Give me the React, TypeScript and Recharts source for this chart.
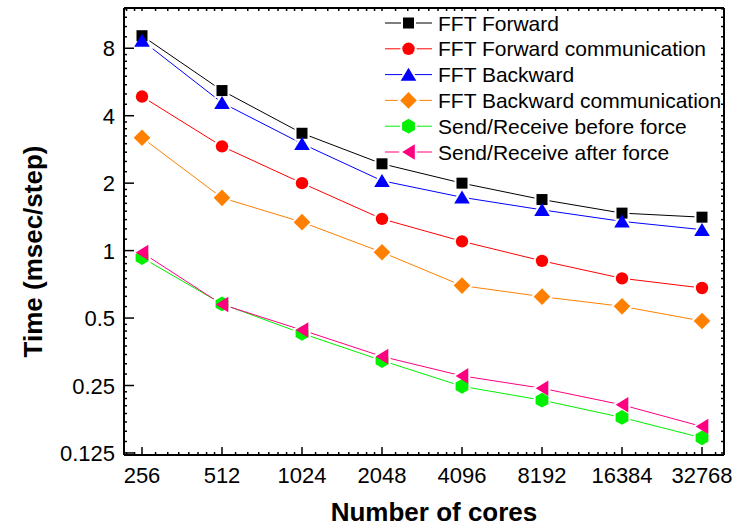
import React from 'react';
import { LineChart, Line, XAxis, YAxis, Legend } from 'recharts';

// Number of cores (x categories) and per-phase timings in msec/step
const CORES = [256, 512, 1024, 2048, 4096, 8192, 16384, 32768];
const FFT_FORWARD = [9.1, 5.18, 3.34, 2.44, 2.0, 1.69, 1.47, 1.41];
const FFT_FORWARD_COMM = [4.87, 2.92, 2.0, 1.385, 1.1, 0.9, 0.752, 0.681];
const FFT_BACKWARD = [8.67, 4.57, 3.0, 2.05, 1.73, 1.52, 1.35, 1.24];
const FFT_BACKWARD_COMM = [3.19, 1.72, 1.34, 0.983, 0.698, 0.623, 0.564, 0.485];
const SR_BEFORE = [0.93, 0.578, 0.427, 0.323, 0.248, 0.215, 0.18, 0.146];
const SR_AFTER = [0.98, 0.575, 0.442, 0.337, 0.276, 0.243, 0.205, 0.164];
const Y_TICKS = [0.125, 0.25, 0.5, 1, 2, 4, 8];

const X_DOMAIN: [number, number] = [Math.pow(2, 7.775), Math.pow(2, 15.275)];
const Y_DOMAIN: [number, number] = [0.1224, 12.1];

const FONT = '"Liberation Sans", Arial, Helvetica, sans-serif';

type Kind = 'square' | 'circle' | 'triangleUp' | 'diamond' | 'hexagon' | 'triangleLeft';

const SERIES: { key: string; name: string; color: string; kind: Kind; values: number[] }[] = [
  { key: 'fwd', name: 'FFT Forward', color: '#000000', kind: 'square', values: FFT_FORWARD },
  { key: 'fwdComm', name: 'FFT Forward communication', color: '#FF0000', kind: 'circle', values: FFT_FORWARD_COMM },
  { key: 'bwd', name: 'FFT Backward', color: '#0000FF', kind: 'triangleUp', values: FFT_BACKWARD },
  { key: 'bwdComm', name: 'FFT Backward communication', color: '#FF8000', kind: 'diamond', values: FFT_BACKWARD_COMM },
  { key: 'srBefore', name: 'Send/Receive before force', color: '#00F000', kind: 'hexagon', values: SR_BEFORE },
  { key: 'srAfter', name: 'Send/Receive after force', color: '#FF0080', kind: 'triangleLeft', values: SR_AFTER },
];

const DATA = CORES.map((c, i) => {
  const row: Record<string, number> = { cores: c };
  SERIES.forEach((s) => {
    row[s.key] = s.values[i];
  });
  return row;
});

// Minor ticks: eighths of each doubling on both log2 axes
const minorTicks = (lo: number, hi: number, eMin: number, eMax: number) => {
  const out: number[] = [];
  for (let e = eMin; e <= eMax; e++) {
    const base = Math.pow(2, e);
    for (let k = 1; k < 8; k++) {
      const v = base * (1 + k / 8);
      if (v > lo && v < hi) out.push(v);
    }
  }
  return out;
};
const X_MINOR = minorTicks(X_DOMAIN[0], X_DOMAIN[1], 7, 15);
const Y_MINOR = minorTicks(Y_DOMAIN[0], Y_DOMAIN[1], -4, 3);
const X_ALL = [...CORES, ...X_MINOR];
const Y_ALL = [...Y_TICKS, ...Y_MINOR];

function Marker({ kind, cx, cy, fill, halo }: { kind: Kind; cx: number; cy: number; fill: string; halo?: boolean }) {
  const common = halo
    ? { fill: '#fff', stroke: '#fff', strokeWidth: 4 }
    : { fill, stroke: 'none' };
  switch (kind) {
    case 'square':
      return <rect x={cx - 5.5} y={cy - 5.5} width={11} height={11} {...common} />;
    case 'circle':
      return <circle cx={cx} cy={cy} r={6.2} {...common} />;
    case 'triangleUp':
      return <polygon points={`${cx},${cy - 6.8} ${cx + 7.8},${cy + 6.2} ${cx - 7.8},${cy + 6.2}`} {...common} />;
    case 'diamond':
      return <polygon points={`${cx},${cy - 8.3} ${cx + 8.3},${cy} ${cx},${cy + 8.3} ${cx - 8.3},${cy}`} {...common} />;
    case 'hexagon': {
      const pts = [0, 1, 2, 3, 4, 5]
        .map((k) => {
          const a = ((-90 + 60 * k) * Math.PI) / 180;
          return `${cx + 7.4 * Math.cos(a)},${cy + 7.4 * Math.sin(a)}`;
        })
        .join(' ');
      return <polygon points={pts} {...common} />;
    }
    case 'triangleLeft':
    default:
      return <polygon points={`${cx - 6.3},${cy} ${cx + 6.3},${cy - 7.8} ${cx + 6.3},${cy + 7.8}`} {...common} />;
  }
}

function BottomTick(props: any) {
  const { x, y, payload } = props;
  const major = CORES.includes(payload.value);
  return (
    <g>
      <line x1={x} y1={y} x2={x} y2={y - (major ? 8 : 3)} stroke="#000" strokeWidth={1.5} />
      {major && (
        <text x={x} y={y + 28} textAnchor="middle" fontSize={22} fontFamily={FONT} fill="#000">
          {payload.value}
        </text>
      )}
    </g>
  );
}

function TopTick(props: any) {
  const { x, y } = props;
  return <line x1={x} y1={y} x2={x} y2={y + 3} stroke="#000" strokeWidth={1.5} />;
}

function LeftTick(props: any) {
  const { x, y, payload } = props;
  const major = Y_TICKS.includes(payload.value);
  return (
    <g>
      <line x1={x} y1={y} x2={x + (major ? 10 : 3)} y2={y} stroke="#000" strokeWidth={1.5} />
      {major && (
        <text x={x - 9} y={y + 8} textAnchor="end" fontSize={22} fontFamily={FONT} fill="#000">
          {payload.value}
        </text>
      )}
    </g>
  );
}

function RightTick(props: any) {
  const { x, y } = props;
  return <line x1={x} y1={y} x2={x - 3} y2={y} stroke="#000" strokeWidth={1.5} />;
}

function YTitle(props: any) {
  const vb = props.viewBox;
  const tx = vb.x + 41.5;
  const ty = vb.y + vb.height / 2 + 20;
  return (
    <text
      x={tx}
      y={ty}
      transform={`rotate(-90, ${tx}, ${ty})`}
      textAnchor="middle"
      fontSize={26}
      fontWeight="bold"
      fontFamily={FONT}
      fill="#000"
    >
      Time (msec/step)
    </text>
  );
}

function XTitle(props: any) {
  const vb = props.viewBox;
  return (
    <text
      x={vb.x + vb.width / 2 + 10}
      y={vb.y + 66}
      textAnchor="middle"
      fontSize={26}
      fontWeight="bold"
      fontFamily={FONT}
      fill="#000"
    >
      Number of cores
    </text>
  );
}

function LegendBox() {
  const rowH = 25.8;
  return (
    <svg width={352} height={165} style={{ display: 'block', overflow: 'visible' }}>
      {SERIES.map((s, i) => {
        const cy = 15 + rowH * i;
        return (
          <g key={s.key}>
            <line x1={5} y1={cy} x2={52} y2={cy} stroke={s.color} strokeWidth={1} />
            <Marker kind={s.kind} cx={28.5} cy={cy} fill={s.color} halo />
            <Marker kind={s.kind} cx={28.5} cy={cy} fill={s.color} />
            <text x={58} y={cy + 7.5} fontSize={21} fontFamily={FONT} fill="#000">
              {s.name}
            </text>
          </g>
        );
      })}
    </svg>
  );
}

export default function App() {
  return (
    <div style={{ width: 740, height: 528, background: '#fff' }}>
      <style>{'body{margin:0;background:#fff;}'}</style>
      <LineChart width={740} height={528} data={DATA} margin={{ top: 7, right: 15, bottom: 0, left: 0 }}>
        <XAxis
          xAxisId="b"
          orientation="bottom"
          type="number"
          dataKey="cores"
          scale="log"
          domain={X_DOMAIN}
          allowDataOverflow
          ticks={X_ALL}
          interval={0}
          tickLine={false}
          tickSize={0}
          tickMargin={0}
          tick={<BottomTick />}
          axisLine={{ stroke: '#000', strokeWidth: 2 }}
          height={73}
          label={(p: any) => <XTitle {...p} />}
        />
        <XAxis
          xAxisId="t"
          orientation="top"
          type="number"
          dataKey="cores"
          scale="log"
          domain={X_DOMAIN}
          allowDataOverflow
          ticks={X_ALL}
          interval={0}
          tickLine={false}
          tickSize={0}
          tickMargin={0}
          tick={<TopTick />}
          axisLine={{ stroke: '#000', strokeWidth: 2 }}
          height={1}
        />
        <YAxis
          yAxisId="l"
          orientation="left"
          type="number"
          scale="log"
          domain={Y_DOMAIN}
          allowDataOverflow
          ticks={Y_ALL}
          interval={0}
          tickLine={false}
          tickSize={0}
          tickMargin={0}
          tick={<LeftTick />}
          axisLine={{ stroke: '#000', strokeWidth: 2 }}
          width={124}
          label={(p: any) => <YTitle {...p} />}
        />
        <YAxis
          yAxisId="r"
          orientation="right"
          type="number"
          scale="log"
          domain={Y_DOMAIN}
          allowDataOverflow
          ticks={Y_ALL}
          interval={0}
          tickLine={false}
          tickSize={0}
          tickMargin={0}
          tick={<RightTick />}
          axisLine={{ stroke: '#000', strokeWidth: 2 }}
          width={1}
        />
        <Legend
          layout="vertical"
          align="center"
          verticalAlign="middle"
          content={() => <LegendBox />}
          wrapperStyle={{ left: 380, top: 8, width: 352, height: 165 }}
        />
        {/* connecting lines, with white halos that open a small gap around each point */}
        {SERIES.map((s) => (
          <Line
            key={`${s.key}-line`}
            xAxisId="t"
            yAxisId="r"
            dataKey={s.key}
            stroke={s.color}
            strokeWidth={1}
            isAnimationActive={false}
            legendType="none"
            activeDot={false}
            dot={(p: any) => (
              <Marker key={`${s.key}-h-${p.index}`} kind={s.kind} cx={p.cx} cy={p.cy} fill={s.color} halo />
            )}
          />
        ))}
        {/* point markers on top */}
        {SERIES.map((s) => (
          <Line
            key={`${s.key}-pts`}
            xAxisId="b"
            yAxisId="l"
            dataKey={s.key}
            name={s.name}
            stroke="none"
            strokeWidth={0}
            isAnimationActive={false}
            activeDot={false}
            dot={(p: any) => (
              <Marker key={`${s.key}-m-${p.index}`} kind={s.kind} cx={p.cx} cy={p.cy} fill={s.color} />
            )}
          />
        ))}
      </LineChart>
    </div>
  );
}
